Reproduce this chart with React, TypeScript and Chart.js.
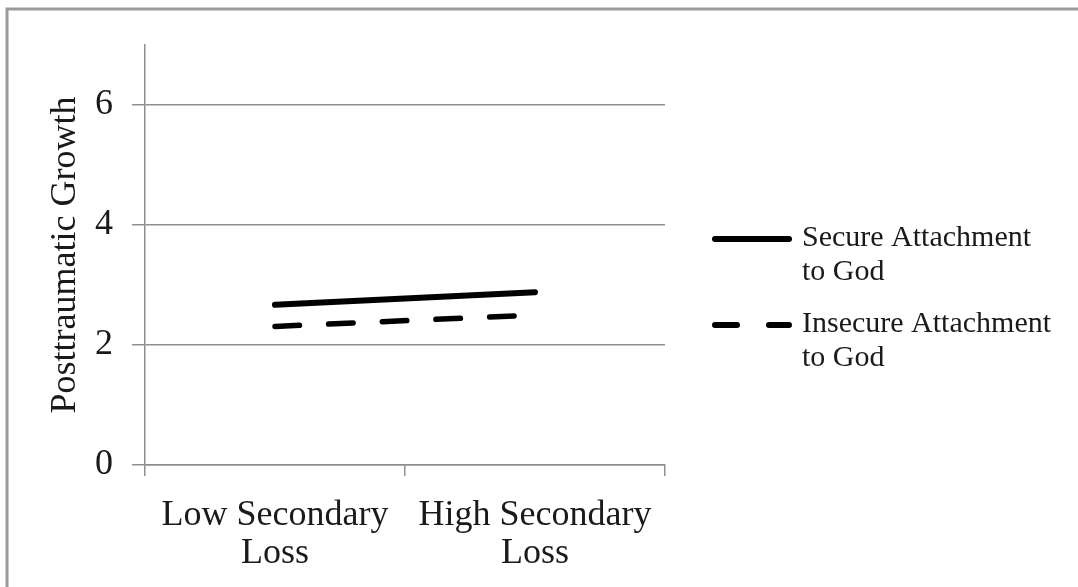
import React, { useEffect, useRef } from "react";
import { Chart, registerables } from "chart.js";

Chart.register(...registerables);

const categories = [["Low Secondary", "Loss"], ["High Secondary", "Loss"]];
const secureValues = [2.67, 2.88];
const insecureValues = [2.31, 2.5];
const seriesNames = [
  ["Secure Attachment", "to God"],
  ["Insecure Attachment", "to God"],
];
const yTicks = [0, 2, 4, 6];
const yMax = 7;
const yTitle = "Posttraumatic Growth";

const FONT = "'Liberation Serif', 'Times New Roman', serif";
const GRID = "#8e8e8e";
const TEXT = "#1a1a1a";

const framePlugin = {
  id: "frame",
  beforeDraw(chart: any) {
    const { ctx, width, height } = chart;
    ctx.save();
    ctx.fillStyle = "#ffffff";
    ctx.fillRect(0, 0, width, height);
    ctx.strokeStyle = "#9a9a9a";
    ctx.lineWidth = 3;
    ctx.beginPath();
    ctx.moveTo(7, height);
    ctx.lineTo(7, 9);
    ctx.lineTo(width, 9);
    ctx.stroke();
    ctx.restore();
  },
};

const legendPlugin = {
  id: "sideLegend",
  afterDraw(chart: any) {
    const { ctx, chartArea } = chart;
    const x0 = chartArea.right + 50;
    const x1 = x0 + 74;
    const textX = x0 + 87;
    chart.data.datasets.forEach((ds: any, i: number) => {
      const baseY = chartArea.top + 201 + i * 86;
      const lineY = baseY - 7;
      ctx.save();
      ctx.strokeStyle = "#000";
      ctx.lineWidth = 6;
      ctx.lineCap = "round";
      ctx.setLineDash(ds.borderDash && ds.borderDash.length ? [22, 32] : []);
      ctx.beginPath();
      ctx.moveTo(x0, lineY);
      ctx.lineTo(x1, lineY);
      ctx.stroke();
      ctx.setLineDash([]);
      ctx.fillStyle = TEXT;
      ctx.font = `30px ${FONT}`;
      ctx.textBaseline = "alphabetic";
      ctx.textAlign = "left";
      const lines: string[] = ds.legendLines;
      lines.forEach((t, j) => ctx.fillText(t, textX, baseY + j * 34));
      ctx.restore();
    });
  },
};

export default function App() {
  const ref = useRef<HTMLCanvasElement | null>(null);

  useEffect(() => {
    if (!ref.current) return;
    const chart = new Chart(ref.current, {
      type: "line",
      data: {
        labels: categories as any,
        datasets: [
          {
            label: seriesNames[0].join(" "),
            legendLines: seriesNames[0],
            data: secureValues,
            borderColor: "#000",
            backgroundColor: "#000",
            borderWidth: 6,
            borderCapStyle: "round",
            pointRadius: 0,
            tension: 0,
          } as any,
          {
            label: seriesNames[1].join(" "),
            legendLines: seriesNames[1],
            data: insecureValues,
            borderColor: "#000",
            backgroundColor: "#000",
            borderWidth: 5.5,
            borderCapStyle: "round",
            borderDash: [24.5, 29.2],
            pointRadius: 0,
            tension: 0,
          } as any,
        ],
      },
      options: {
        animation: false,
        responsive: false,
        layout: { padding: { top: 45, right: 413, left: 0, bottom: 0 } },
        plugins: {
          legend: { display: false },
          tooltip: { enabled: false },
        },
        scales: {
          x: {
            type: "category",
            offset: true,
            grid: {
              offset: true,
              drawOnChartArea: false,
              drawTicks: true,
              tickLength: 11,
              color: GRID,
              lineWidth: 1.5,
            },
            border: { display: true, color: GRID, width: 1.5 },
            ticks: {
              color: TEXT,
              font: { family: FONT, size: 36, lineHeight: 1.05 },
              padding: 21,
              maxRotation: 0,
              autoSkip: false,
            },
            afterFit: (s: any) => {
              s.height = 122;
            },
          },
          y: {
            type: "linear",
            min: 0,
            max: yMax,
            afterBuildTicks: (s: any) => {
              s.ticks = yTicks.map((v) => ({ value: v }));
            },
            grid: {
              color: GRID,
              lineWidth: 1.5,
              drawTicks: true,
              tickLength: 13,
            },
            border: { display: true, color: GRID, width: 1.5 },
            ticks: {
              color: TEXT,
              font: { family: FONT, size: 36 },
              padding: 19,
            },
            title: {
              display: true,
              text: yTitle,
              color: TEXT,
              font: { family: FONT, size: 36 },
              padding: { top: 44, bottom: 0 },
            },
            afterFit: (s: any) => {
              s.width = 145;
            },
          },
        },
      } as any,
      plugins: [framePlugin, legendPlugin],
    });
    return () => chart.destroy();
  }, []);

  return (
    <div
      style={{
        position: "fixed",
        left: 0,
        top: 0,
        width: 1078,
        height: 587,
        background: "#fff",
        overflow: "hidden",
      }}
    >
      <canvas ref={ref} width={1078} height={587} style={{ display: "block" }} />
    </div>
  );
}
